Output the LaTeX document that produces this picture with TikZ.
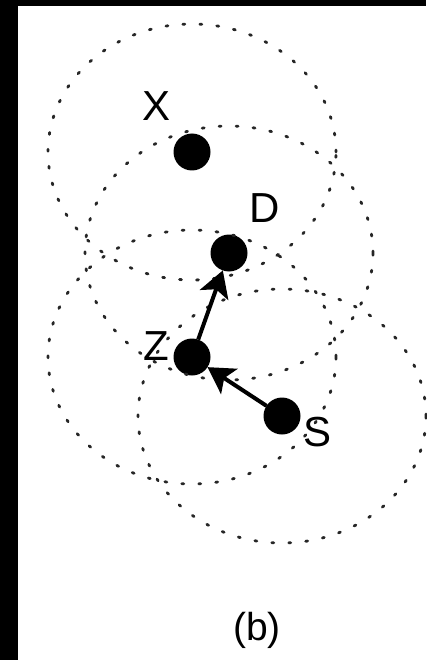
\documentclass[tikz,border=0pt]{standalone}
\usepackage{fontspec}
\setmainfont{Liberation Sans}
\usepackage{tikz}
\usetikzlibrary{positioning,arrows.meta}

\begin{document}
\begin{tikzpicture}[x=1pt, y=-1pt,
  every node/.style={inner sep=0pt, font=\fontsize{42}{48}\selectfont},
  host/.style={circle, fill=black, minimum size=37pt, outer sep=0pt},
  coverage/.style={draw=black!85, line width=2.8pt, line cap=round, dash pattern=on 2pt off 15pt},
  link/.style={line width=4pt, -{Stealth[length=26pt,width=30pt,inset=6pt]}}]
\useasboundingbox (0,0) rectangle (426,660);
\fill[white] (0,0) rectangle (426,660);
\fill[black] (0,0) rectangle (18,660);
\fill[black] (0,0) rectangle (426,6);
\node[host] (x) at (192,152) {};
\node[host] (d) at (229,253) {};
\node[host] (z) at (192,357) {};
\node[host] (s) at (282,416) {};
\draw[coverage] (x) ellipse [x radius=144pt, y radius=128pt];
\draw[coverage] (d) ellipse [x radius=144pt, y radius=127pt];
\draw[coverage] (z) ellipse [x radius=144pt, y radius=127pt];
\draw[coverage] (s) ellipse [x radius=144pt, y radius=127pt];
\node (xl) at (157,106) {X};
\node (dl) at (265,208) {D};
\node (zl) at (156,346) {Z};
\node (sl) at (318,432) {S};
\draw[link] (z) -- (d);
\draw[link] (s) -- (z);
\node[font=\fontsize{39}{44}\selectfont] (cap) at (257,630) {(b)};
\end{tikzpicture}
\end{document}
